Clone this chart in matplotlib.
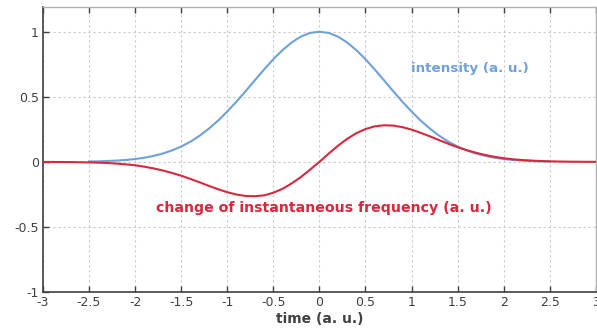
import matplotlib.pyplot as plt

# values
t_blue = [-2.5, -2.4, -2.3, -2.2, -2.1, -2.0, -1.9, -1.8, -1.7, -1.6, -1.5, -1.4, -1.3, -1.2, -1.1,
          -1.0, -0.9, -0.8, -0.7, -0.6, -0.5, -0.4, -0.3, -0.2, -0.1, 0.0,
          0.1, 0.2, 0.3, 0.4, 0.5, 0.6, 0.7, 0.8, 0.9, 1.0, 1.1, 1.2, 1.3, 1.4, 1.5,
          1.6, 1.7, 1.8, 1.9, 2.0, 2.1, 2.2, 2.3, 2.4, 2.5]
intensity = [0.003, 0.004, 0.007, 0.010, 0.015, 0.022, 0.032, 0.046, 0.064, 0.088, 0.118, 0.155, 0.201, 0.255, 0.317,
             0.387, 0.463, 0.544, 0.628, 0.710, 0.789, 0.859, 0.918, 0.963, 0.991, 1.000,
             0.991, 0.963, 0.918, 0.859, 0.789, 0.710, 0.628, 0.544, 0.463, 0.387, 0.317, 0.255, 0.201, 0.155, 0.118,
             0.088, 0.064, 0.046, 0.032, 0.022, 0.015, 0.010, 0.007, 0.004, 0.003]

t_red = [-3.0, -2.9, -2.8, -2.7, -2.6, -2.5, -2.4, -2.3, -2.2, -2.1, -2.0, -1.9, -1.8, -1.7, -1.6, -1.5,
         -1.4, -1.3, -1.2, -1.1, -1.0, -0.9, -0.8, -0.7, -0.6, -0.5, -0.4, -0.3, -0.2, -0.1, 0.0,
         0.1, 0.2, 0.3, 0.4, 0.5, 0.6, 0.7, 0.8, 0.9, 1.0, 1.1, 1.2, 1.3, 1.4, 1.5,
         1.6, 1.7, 1.8, 1.9, 2.0, 2.1, 2.2, 2.3, 2.4, 2.5, 2.6, 2.7, 2.8, 2.9, 3.0]
freq_change = [-0.0004, -0.0006, -0.001, -0.0016, -0.0025, -0.004, -0.006, -0.009, -0.013, -0.019, -0.026, -0.037, -0.050, -0.066, -0.085, -0.106,
               -0.131, -0.157, -0.184, -0.210, -0.233, -0.251, -0.262, -0.264, -0.257, -0.237, -0.207, -0.165, -0.116, -0.059, 0.0,
               0.063, 0.123, 0.176, 0.220, 0.252, 0.273, 0.281, 0.279, 0.267, 0.248, 0.223, 0.196, 0.167, 0.139, 0.113,
               0.090, 0.070, 0.053, 0.039, 0.028, 0.020, 0.014, 0.010, 0.0065, 0.0042, 0.0027, 0.0017, 0.001, 0.0006, 0.0004]

xticks = [-3, -2.5, -2, -1.5, -1, -0.5, 0, 0.5, 1, 1.5, 2, 2.5, 3]
xticklabels = ['-3', '-2.5', '-2', '-1.5', '-1', '-0.5', '0', '0.5', '1', '1.5', '2', '2.5', '3']
yticks = [-1, -0.5, 0, 0.5, 1]
yticklabels = ['-1', '-0.5', '0', '0.5', '1']

blue = '#6fa1d8'
red = '#d7283e'
dark = '#404040'

fig = plt.figure(figsize=(5.97, 3.33), dpi=100)
ax = fig.add_axes([0.072, 0.123, 0.926, 0.856])

ax.plot(t_blue, intensity, color=blue, lw=1.5, zorder=3)
ax.plot(t_red, freq_change, color=red, lw=1.5, zorder=4)

ax.set_xlim(-3, 3)
ax.set_ylim(-1, 1.19)
ax.set_xticks(xticks)
ax.set_xticklabels(xticklabels)
ax.set_yticks(yticks)
ax.set_yticklabels(yticklabels)
ax.tick_params(direction='in', length=4, width=1, colors=dark, labelsize=9,
               top=True, right=False, pad=3)
ax.grid(True, color='#c8c8c8', linestyle=(0, (2, 2.5)), linewidth=0.8)

for s in ['left', 'bottom']:
    ax.spines[s].set_color(dark)
    ax.spines[s].set_linewidth(1.2)
for s in ['top', 'right']:
    ax.spines[s].set_color('#b0b0b0')
    ax.spines[s].set_linewidth(1.0)

ax.set_xlabel('time (a. u.)', fontsize=10, fontweight='bold', color=dark, labelpad=2)

ax.text(1.63, 0.714, 'intensity (a. u.)', color=blue, fontsize=9.7,
        fontweight='bold', ha='center', va='center')
ax.text(0.05, -0.353, 'change of instantaneous frequency (a. u.)', color=red,
        fontsize=10.2, fontweight='bold', ha='center', va='center')

fig.savefig('out.png', dpi=100)
